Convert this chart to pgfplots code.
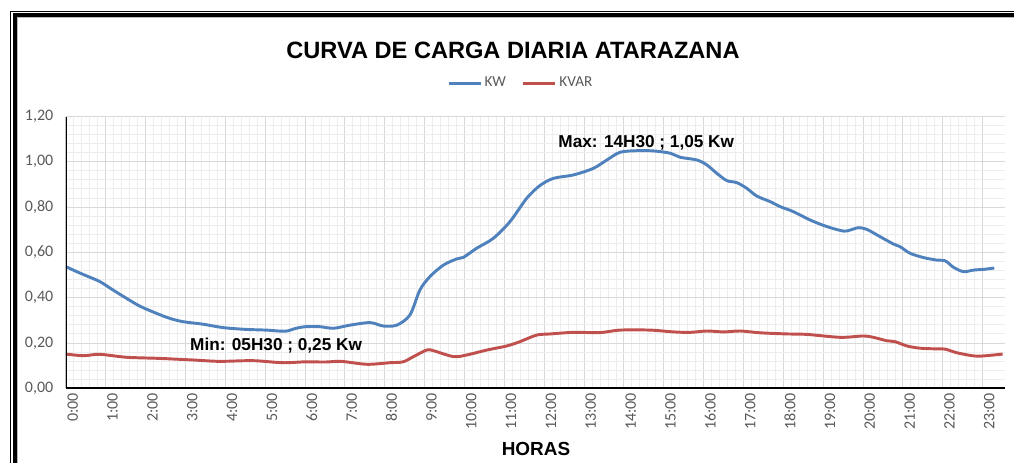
\documentclass[border=0pt]{standalone}
\usepackage{fontspec}
\setmainfont{Carlito}
\newfontfamily\arialfont{Liberation Sans}
\usepackage{pgfplots}
\pgfplotsset{compat=1.18}
\definecolor{kwblue}{HTML}{4F81BD}
\definecolor{kvarred}{HTML}{C0504D}
\definecolor{ticktxt}{HTML}{595959}
\definecolor{majgrid}{HTML}{D9D9D9}
\definecolor{mingrid}{HTML}{EDEDED}

\pgfplotstableread{
h v
0.00 0.537
0.27 0.515
0.52 0.496
0.85 0.471
1.18 0.434
1.52 0.397
1.85 0.363
2.27 0.331
2.60 0.309
2.94 0.294
3.44 0.283
3.94 0.268
4.52 0.260
5.02 0.257
5.50 0.252
5.75 0.264
6.00 0.272
6.37 0.272
6.71 0.265
7.13 0.279
7.63 0.290
7.96 0.275
8.30 0.279
8.63 0.324
8.88 0.434
9.13 0.493
9.47 0.544
9.80 0.571
9.97 0.578
10.30 0.618
10.72 0.662
11.14 0.736
11.56 0.839
11.89 0.895
12.23 0.927
12.73 0.942
13.23 0.971
13.57 1.008
13.90 1.042
14.32 1.049
14.74 1.048
15.16 1.038
15.41 1.020
15.83 1.008
16.08 0.986
16.33 0.949
16.58 0.917
16.83 0.908
17.08 0.883
17.33 0.849
17.67 0.824
17.92 0.802
18.25 0.780
18.67 0.743
19.09 0.714
19.51 0.694
19.68 0.699
19.88 0.709
20.09 0.702
20.43 0.669
20.76 0.637
20.93 0.625
21.18 0.596
21.52 0.577
21.85 0.566
22.06 0.563
22.27 0.534
22.52 0.515
22.77 0.522
23.02 0.525
23.29 0.531
}\kwdata

\pgfplotstableread{
h v
0.00 0.151
0.44 0.144
0.85 0.150
1.52 0.137
2.35 0.132
3.19 0.125
3.85 0.119
4.69 0.122
5.44 0.113
6.02 0.117
6.50 0.116
6.90 0.119
7.55 0.106
8.13 0.113
8.46 0.117
8.72 0.140
9.05 0.169
9.22 0.166
9.72 0.140
10.05 0.147
10.56 0.169
11.06 0.187
11.39 0.206
11.81 0.235
12.15 0.240
12.73 0.247
13.40 0.246
13.90 0.257
14.65 0.257
15.24 0.249
15.66 0.247
16.08 0.253
16.50 0.249
16.92 0.253
17.42 0.245
18.09 0.240
18.59 0.238
19.43 0.225
20.00 0.231
20.26 0.225
20.59 0.210
20.80 0.206
21.10 0.187
21.43 0.177
21.85 0.174
22.06 0.173
22.35 0.157
22.77 0.143
23.02 0.143
23.50 0.151
}\kvardata

\begin{document}
\begin{tikzpicture}[x=0.75pt,y=0.75pt]
\useasboundingbox (0,0) rectangle (1014,462);
% outer frame
\draw[black, line width=0.75pt] (10.7,-60) -- (10.7,451) -- (1100,451);
\draw[black, line width=3pt] (14.7,-60) -- (14.7,447) -- (1100,447);
\draw[gray!55, line width=0.75pt] (17.3,-60) -- (17.3,444.2) -- (1100,444.2);

\begin{axis}[
  at={(49.5pt,55.275pt)}, anchor=south west,
  scale only axis, width=704.25pt, height=203.85pt,
  xmin=0, xmax=23.56, ymin=0, ymax=1.2,
  xtick={0,1,...,23},
  xticklabels={0:00,1:00,2:00,3:00,4:00,5:00,6:00,7:00,8:00,9:00,10:00,11:00,12:00,13:00,14:00,15:00,16:00,17:00,18:00,19:00,20:00,21:00,22:00,23:00},
  ytick={0,0.2,0.4,0.6,0.8,1.0,1.2},
  minor x tick num=4, minor y tick num=4,
  grid=both,
  major grid style={majgrid, line width=0.75pt},
  minor grid style={mingrid, line width=0.75pt},
  major tick length=0pt, minor tick length=0pt,
  tick style={draw=none},
  axis line style={draw=none},
  tick label style={text=ticktxt, font=\fontsize{12}{14}\selectfont},
  x tick label style={rotate=90, anchor=east, yshift=-5pt},
  y tick label style={xshift=-6pt},
  yticklabel style={/pgf/number format/.cd, fixed, fixed zerofill, precision=2, use comma, assume math mode=true},
  legend style={at={(0.4846,1.123)}, anchor=center, draw=none, fill=none,
    font=\fontsize{11.4}{13}\selectfont, text=ticktxt,
    /tikz/every even column/.append style={column sep=10pt}},
  legend columns=2,
  legend image code/.code={\draw[#1] (0pt,0pt) -- (24pt,0pt);},
]
\addplot[kwblue, line width=2.2pt, smooth, tension=0.5] table[x=h, y=v] {\kwdata};
\addlegendentry{KW}
\addplot[kvarred, line width=2.2pt, smooth, tension=0.5] table[x=h, y=v] {\kvardata};
\addlegendentry{KVAR}
\draw[black, line width=1.5pt] (rel axis cs:0,0) -- (rel axis cs:1,0);
\draw[black, line width=1.5pt] (rel axis cs:0,0) -- (rel axis cs:0,1);
\node[anchor=base west, inner sep=0, font=\arialfont\bfseries\fontsize{12.9}{15}\selectfont] at (axis cs:12.35,1.061) {Max: 14H30 ; 1,05 Kw};
\node[anchor=base west, inner sep=0, font=\arialfont\bfseries\fontsize{12.9}{15}\selectfont] at (axis cs:3.11,0.169) {Min: 05H30 ; 0,25 Kw};
\end{axis}

\node[anchor=base, inner sep=0, font=\arialfont\bfseries\fontsize{17.7}{20}\selectfont] at (513,404) {CURVA DE CARGA DIARIA ATARAZANA};
\node[anchor=base, inner sep=0, font=\arialfont\bfseries\fontsize{14.2}{16}\selectfont] at (536,7) {HORAS};
\end{tikzpicture}
\end{document}
